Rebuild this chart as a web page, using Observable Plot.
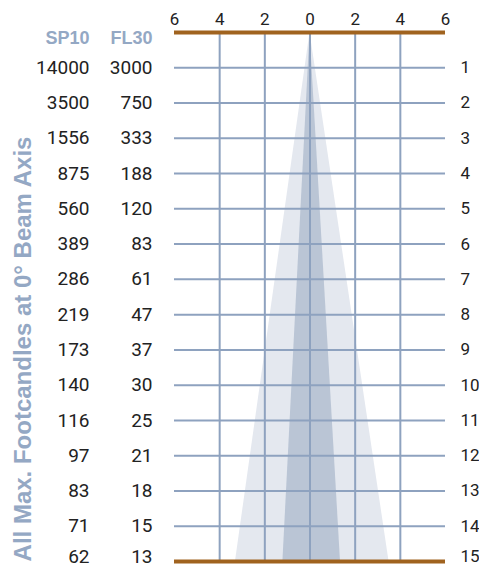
<!DOCTYPE html>
<html><head><meta charset="utf-8">
<script src="https://cdn.jsdelivr.net/npm/d3@7"></script>
<script src="https://cdn.jsdelivr.net/npm/@observablehq/plot@0.6"></script>
<style>
html,body{margin:0;padding:0;background:#fff;}
svg{display:block;}
</style>
</head><body>
<div id="chart"></div>
<script>
const rows = [1,2,3,4,5,6,7,8,9,10,11,12,13,14,15];
const sp10 = [14000,3500,1556,875,560,389,286,219,173,140,116,97,83,71,62];
const fl30 = [3000,750,333,188,120,83,61,47,37,30,25,21,18,15,13];
const xTicks = [-6,-4,-2,0,2,4,6];
const vGrid = [-4,-2,0,2,4];
const hGrid = [1,2,3,4,5,6,7,8,9,10,11,12,13,14];
const edges = [0,15];
const headers = ["SP10","FL30"];
const yTitle = "All Max. Footcandles at 0° Beam Axis";
// beam outlines: distance, left and right edge (feet)
const fl30Beam = [{d:0,l:0,r:0},{d:15,l:-3.3,r:3.5}];
const sp10Beam = [{d:0,l:0,r:0},{d:15,l:-1.2,r:1.35}];

const table = rows.map((r,i)=>({row:r, sp:sp10[i], fl:fl30[i]}));
const inner = table.filter(d => d.row < 15);
const last = table.filter(d => d.row === 15);
const font = "Liberation Sans, Arial, Helvetica, sans-serif";
const numFont = "Roboto, Liberation Sans, Arial, sans-serif";
const blue = "#94a8c4";
const grid = "#8ea2bf";
const brown = "#a0631f";
const ink = "#222";

const valueMarks = (data, dy) => [
  Plot.text(data, {y: "row", text: d => String(d.sp), frameAnchor: "left", dx: -85, dy, textAnchor: "end", fontSize: 19, fontFamily: numFont, fill: ink}),
  Plot.text(data, {y: "row", text: d => String(d.fl), frameAnchor: "left", dx: -22, dy, textAnchor: "end", fontSize: 19, fontFamily: numFont, fill: ink}),
  Plot.text(data, {y: "row", text: d => String(d.row), frameAnchor: "right", dx: 15, dy, textAnchor: "start", fontSize: 17, fontFamily: numFont, fill: ink})
];

const chart = Plot.plot({
  width: 479,
  height: 567,
  marginLeft: 174,
  marginRight: 34,
  marginTop: 32,
  marginBottom: 6,
  style: {fontFamily: font, fontSize: "17px", color: ink, background: "#fff"},
  x: {domain: [-6, 6]},
  y: {domain: [0, 15], reverse: true, axis: null},
  marks: [
    Plot.areaX(fl30Beam, {y: "d", x1: "l", x2: "r", fill: "#e4e8ef"}),
    Plot.areaX(sp10Beam, {y: "d", x1: "l", x2: "r", fill: "#bac5d5"}),
    Plot.ruleX(vGrid, {y1: 0, y2: 15, stroke: grid, strokeWidth: 2}),
    Plot.ruleY(hGrid, {x1: -6, x2: 6, stroke: grid, strokeWidth: 2}),
    Plot.ruleY(edges, {x1: -6, x2: 6, stroke: brown, strokeWidth: 4}),
    Plot.axisX(xTicks, {anchor: "top", tickSize: 0, tickPadding: 8, tickFormat: d => Math.abs(d), fontSize: 17, fontFamily: numFont, fill: ink}),
    ...valueMarks(inner, 0),
    ...valueMarks(last, -5),
    Plot.text([headers[0]], {y: 0, text: d => d, frameAnchor: "left", dx: -85, dy: 6, textAnchor: "end", fontSize: 18, fontWeight: "bold", fill: blue}),
    Plot.text([headers[1]], {y: 0, text: d => d, frameAnchor: "left", dx: -22, dy: 6, textAnchor: "end", fontSize: 18, fontWeight: "bold", fill: blue}),
    Plot.text([yTitle], {text: d => d, frameAnchor: "left", textAnchor: "middle", dx: -151, dy: 52, rotate: -90, fontSize: 24, fontWeight: "bold", fill: blue})
  ]
});
document.getElementById("chart").appendChild(chart);
</script>
</body></html>
